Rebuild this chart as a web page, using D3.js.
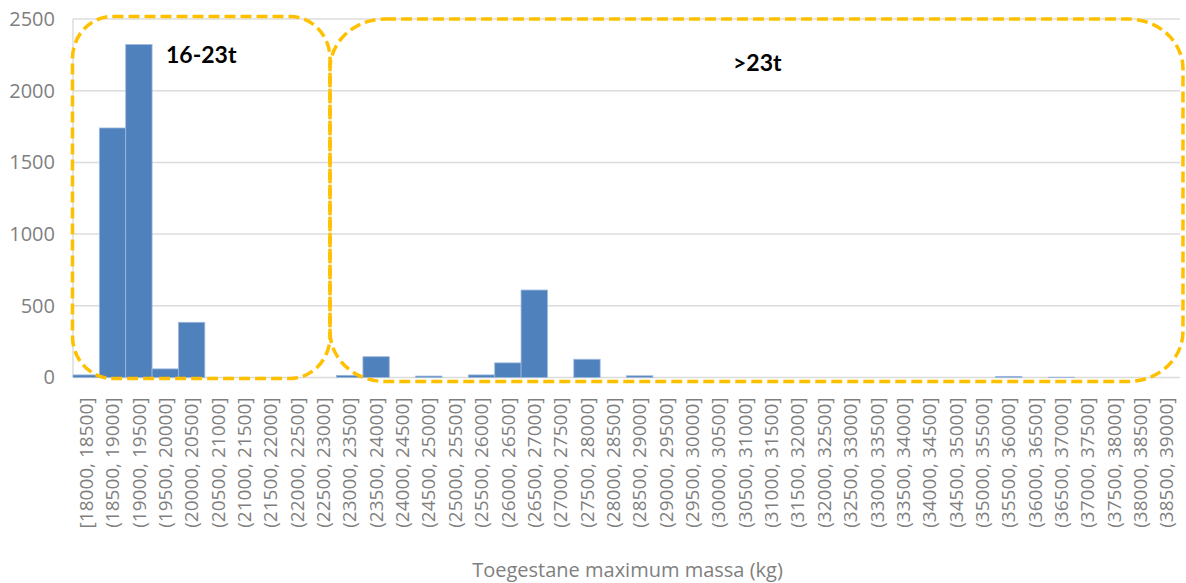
<!DOCTYPE html>
<html>
<head>
<meta charset="utf-8">
<script src="https://cdn.jsdelivr.net/npm/d3@7"></script>
<style>
  html, body { margin: 0; padding: 0; background: #fff; }
  svg { display: block; }
</style>
</head>
<body>
<svg id="chart" width="1186" height="583"></svg>
<script>
const categories = [
  "[18000, 18500]", "(18500, 19000]", "(19000, 19500]", "(19500, 20000]",
  "(20000, 20500]", "(20500, 21000]", "(21000, 21500]", "(21500, 22000]",
  "(22000, 22500]", "(22500, 23000]", "(23000, 23500]", "(23500, 24000]",
  "(24000, 24500]", "(24500, 25000]", "(25000, 25500]", "(25500, 26000]",
  "(26000, 26500]", "(26500, 27000]", "(27000, 27500]", "(27500, 28000]",
  "(28000, 28500]", "(28500, 29000]", "(29000, 29500]", "(29500, 30000]",
  "(30000, 30500]", "(30500, 31000]", "(31000, 31500]", "(31500, 32000]",
  "(32000, 32500]", "(32500, 33000]", "(33000, 33500]", "(33500, 34000]",
  "(34000, 34500]", "(34500, 35000]", "(35000, 35500]", "(35500, 36000]",
  "(36000, 36500]", "(36500, 37000]", "(37000, 37500]", "(37500, 38000]",
  "(38000, 38500]", "(38500, 39000]"
];
const counts = [
  18, 1740, 2322, 60, 385, 0, 0, 0, 0, 0,
  15, 145, 0, 10, 0, 18, 102, 610, 0, 127,
  0, 12, 0, 0, 0, 0, 0, 0, 0, 0,
  0, 0, 0, 0, 0, 8, 0, 2, 0, 0,
  0, 0
];
const yTicks = [0, 500, 1000, 1500, 2000, 2500];
const axisTitle = "Toegestane maximum massa (kg)";
const groupLabels = ["16-23t", ">23t"];

(function () {
const svg = d3.select("#chart");
const mLeft = 73, mRight = 1180, mTop = 19, mBottom = 377.5;

const x = d3.scaleBand().domain(categories).range([mLeft, mRight]).padding(0);
const y = d3.scaleLinear().domain([0, 2500]).range([mBottom, mTop]);

// gridlines
svg.append("g").selectAll("line").data(yTicks).join("line")
  .attr("x1", mLeft).attr("x2", mRight)
  .attr("y1", d => y(d)).attr("y2", d => y(d))
  .attr("stroke", "#dcdcdc").attr("stroke-width", 1.5);
svg.append("line")
  .attr("x1", mLeft).attr("x2", mLeft).attr("y1", y(2500)).attr("y2", y(0))
  .attr("stroke", "#dcdcdc").attr("stroke-width", 1.5);

// y axis labels
const yAxis = d3.axisLeft(y).tickValues(yTicks).tickSize(0).tickPadding(18).tickFormat(d3.format("d"));
const gy = svg.append("g").attr("transform", `translate(${mLeft},0)`).call(yAxis);
gy.select(".domain").remove();
gy.selectAll("text").attr("fill", "#7f7f7f").style("font-family", "Open Sans")
  .style("font-size", "20px");

// bars
svg.append("g").selectAll("rect").data(categories).join("rect")
  .attr("x", d => x(d))
  .attr("width", x.bandwidth())
  .attr("y", (d, i) => y(counts[i]))
  .attr("height", (d, i) => y(0) - y(counts[i]))
  .attr("fill", "#4f81bd")
  .attr("stroke", "#9db8dd")
  .attr("stroke-width", 0.8);

// x axis labels
const xAxis = d3.axisBottom(x).tickSize(0).tickPadding(0);
const gx = svg.append("g").attr("transform", `translate(0,${mBottom})`).call(xAxis);
gx.select(".domain").remove();
gx.selectAll("text")
  .attr("fill", "#7f7f7f")
  .style("font-family", "Open Sans")
  .style("font-size", "19px")
  .attr("text-anchor", "end")
  .attr("transform", "rotate(-90)")
  .attr("x", -20).attr("y", 0).attr("dy", "0.35em");

// axis title
svg.append("text")
  .attr("x", (mLeft + mRight) / 2 + 1).attr("y", 577)
  .attr("text-anchor", "middle")
  .attr("fill", "#7f7f7f")
  .style("font-family", "Open Sans")
  .style("font-size", "20px")
  .text(axisTitle);

// group highlight boxes
const boxes = [
  { x0: 72.5, x1: 330, y0: 16.5, y1: 378.5, rx: 40, ry: 42, tx: 166, ty: 63 },
  { x0: 330, x1: 1183, y0: 19, y1: 381.5, rx: 55, ry: 50, tx: 733, ty: 71 }
];
boxes.forEach((b, i) => {
  svg.append("rect")
    .attr("x", b.x0).attr("y", b.y0)
    .attr("width", b.x1 - b.x0).attr("height", b.y1 - b.y0)
    .attr("rx", b.rx).attr("ry", b.ry)
    .attr("fill", "none")
    .attr("stroke", "#ffc000")
    .attr("stroke-width", 3.5)
    .attr("stroke-dasharray", "11,5");
  svg.append("text")
    .attr("x", b.tx).attr("y", b.ty)
    .style("font-family", "Lato")
    .style("font-weight", "bold")
    .style("font-size", "23px")
    .attr("fill", "#000")
    .text(groupLabels[i]);
});
})();
</script>
</body>
</html>
